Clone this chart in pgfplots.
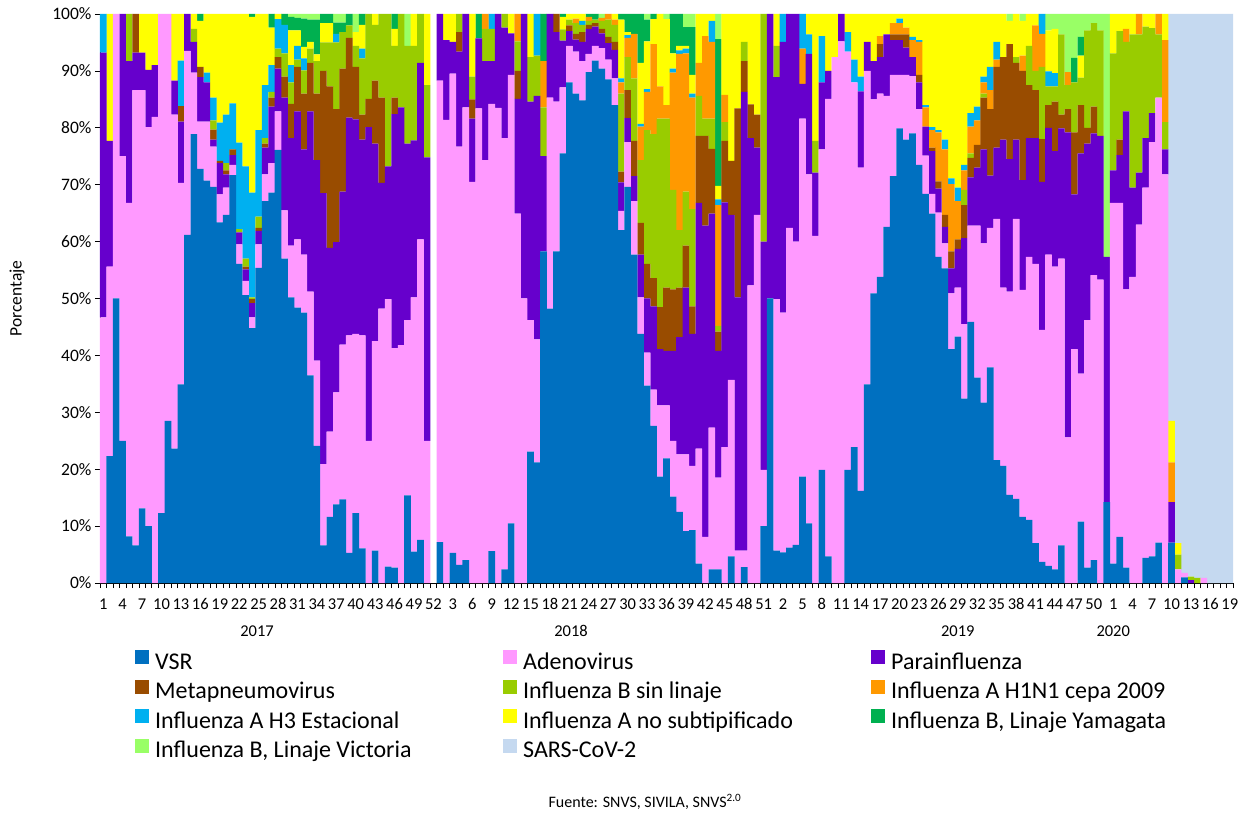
\documentclass[border=0pt]{standalone}
\usepackage{pgfplots}
\pgfplotsset{compat=1.18}
\usepackage{pgfplotstable}
\usepackage{fontspec}
\setmainfont{Carlito}
\definecolor{cVSR}{RGB}{0,112,192}
\definecolor{cAde}{RGB}{255,153,255}
\definecolor{cPara}{RGB}{102,0,204}
\definecolor{cMeta}{RGB}{153,76,0}
\definecolor{cFluB}{RGB}{153,204,0}
\definecolor{cHoneN}{RGB}{255,153,0}
\definecolor{cHthree}{RGB}{0,176,240}
\definecolor{cAns}{RGB}{255,255,0}
\definecolor{cYam}{RGB}{0,176,80}
\definecolor{cVic}{RGB}{153,255,102}
\definecolor{cSars}{RGB}{197,217,240}
\pgfplotstableread{
x v a p m b h1 h3 ans ym vic s
0 0 46.7 46.5 0 0 0 6.8 0 0 0 0
1 22.3 33.3 22.1 0 0 0 0 22.3 0 0 0
2 50 50 0 0 0 0 0 0 0 0 0
3 25 50 25 0 0 0 0 0 0 0 0
4 8.2 58.6 24.9 0 8.3 0 0 0 0 0 0
5 6.6 80 6.6 6.8 0 0 0 0 0 0 0
6 13.1 73.5 6.6 0 0 0 0 6.8 0 0 0
7 10 70.1 10.1 0 0 0 0 9.8 0 0 0
8 0 81.9 9.1 0 0 0 0 9 0 0 0
9 12.3 87.7 0 0 0 0 0 0 0 0 0
10 28.5 71.5 0 0 0 0 0 0 0 0 0
11 23.6 58.7 6 0 0 0 0 11.7 0 0 0
12 34.9 35.4 10.8 2.7 0 0 8 8.2 0 0 0
13 61.2 32.3 6.5 0 0 0 0 0 0 0 0
14 78.9 10.8 5.4 0 2.3 0 0 2.6 0 0 0
15 72.8 8.3 7.8 1.8 0 0 0 8.1 1.2 0 0
16 70.7 10.4 6.9 0 0 0 1.7 10.3 0 0 0
17 69.6 7.1 1.2 1.8 1.6 0 4 14.7 0 0 0
18 63.4 4.9 5.5 0.4 0 0 6.7 19.1 0 0 0
19 64.7 4.8 2.3 0.7 1.3 0 8.5 17.7 0 0 0
20 71.7 1.8 1.7 1 0 0 8.1 15.7 0 0 0
21 56.1 3.4 2.1 0 0.6 0 15.2 22.6 0 0 0
22 50.6 2.5 2 0.5 1.4 0 16.2 26.8 0 0 0
23 44.8 1.9 2.5 0.7 0.3 0 18.4 30.9 0.5 0 0
24 55.4 4.1 2.4 0.5 2 0 15.2 20.4 0 0 0
25 67.1 4.7 4.7 0.7 1 0 9.3 12.5 0 0 0
26 68.6 5.2 9.9 1.6 1 0 4.7 6.6 2.4 0 0
27 76.1 6.8 7.5 2 1.5 0 5.2 0.9 0 0 0
28 57 8.5 19.8 3.7 4.1 0 5 0 1.9 0 0
29 50.2 9.1 18.9 6 3.8 0 3 6.1 2.4 0.5 0
30 48.4 12 22.5 7.8 1.3 0 2.4 2.7 2.2 0.7 0
31 47.5 10.2 18.5 9.8 4.1 0 2.1 2 5 0.8 0
32 36.5 14.7 31.7 8.5 2.5 0 0 1.2 3.9 1 0
33 24.1 15 35.2 11.7 5.7 0 0 1.2 6.1 1 0
34 6.6 14.3 47.6 21.5 5 0 0 3.4 1.6 0 0
35 11.6 15 32.3 28.4 7.7 0 0 3.4 1.6 0 0
36 13.8 19.7 26.4 23.4 11.7 0 1.5 0 2 1.5 0
37 14.7 27.2 26.9 21.6 6.4 0 0 0 1.7 1.5 0
38 5.3 38.2 38.3 14 2.2 0 0 0 2 0 0
39 12.3 31.5 37.7 9.2 3.7 0 0 2.4 0 3.2 0
40 6.1 37.4 34.4 4.4 9.9 0 1.7 4.2 1.9 0 0
41 0 25 55.1 5 14.9 0 0 0 0 0 0
42 5.7 36.8 34.7 11.1 9.8 0 0 1.9 0 0 0
43 0 48.2 22.1 15 14.7 0 0 0 0 0 0
44 2.9 47 23.3 0 26.8 0 0 0 0 0 0
45 2.7 38.6 41.1 2.9 9.1 0 0 3 2.6 0 0
46 0 41.8 41.8 0 16.4 0 0 0 0 0 0
47 15.4 30.8 31 0 17.2 0 0 0 0 5.6 0
48 5.5 44.7 27.6 0 16.6 0 0 5.6 0 0 0
49 7.6 52.8 31 0 8.6 0 0 0 0 0 0
50 0 25 49.8 0 12.7 0 0 12.5 0 0 0
51 0 0 0 0 0 0 0 0 0 0 0
52 7.2 81.1 11.7 0 0 0 0 0 0 0 0
53 0 81.4 14 0 0 0 0 4.6 0 0 0
54 5.3 84.2 5.6 0 0 0 0 4.9 0 0 0
55 3.2 73.5 16.7 3.4 3.2 0 0 0 0 0 0
56 4 79.6 16.4 0 0 0 0 0 0 0 0
57 0 70.5 11.1 3.4 4 0 0 11 0 0 0
58 0 83.4 12.3 0 0 0 0 0 4.3 0 0
59 0 74.3 17.4 0 5.7 2.6 0 0 0 0 0
60 5.6 78.6 7.5 0 5.7 0 2.6 0 0 0 0
61 0 83.5 16.5 0 0 0 0 0 0 0 0
62 2.4 75.8 19.4 0 2.4 0 0 0 0 0 0
63 10.5 78.8 7.3 0 0 0 0 3.4 0 0 0
64 0 64.9 20.2 4.9 5.2 4.8 0 0 0 0 0
65 0 50 50 0 0 0 0 0 0 0 0
66 23.1 23.1 38.4 0 7.8 0 0 7.6 0 0 0
67 21.2 21.6 42.8 0 7.1 0 7.3 0 0 0 0
68 58.3 0 16.7 0 8.6 8.1 0 0 8.3 0 0
69 48.2 37.1 14.7 0 0 0 0 0 0 0 0
70 58.3 26.3 12.2 3.2 0 0 0 0 0 0 0
71 75.5 11.6 8.2 0 2 0 0 2.2 0.5 0 0
72 88 6.4 2.6 1 1 0 0 1 0 0 0
73 86 7.4 2.1 1 1.9 0.8 0 0.8 0 0 0
74 84.8 6.9 3.4 1.7 1.3 0 0.7 1.2 0 0 0
75 89.8 3.2 4.4 0.7 0.7 0.7 0 0 0.5 0 0
76 91.8 2.6 3.4 0.6 0.6 0 0 0 1 0 0
77 90.4 3.6 2.6 0.8 1.4 0.5 0 0 0 0.7 0
78 88.5 3.5 2.9 1.1 3 1 0 0 0 0 0
79 84 4.7 5 1.4 3 0.9 0 1 0 0 0
80 62 3.4 5 1.9 13.7 2 0.7 10.3 1 0 0
81 69.6 7.9 4.2 4.9 5.8 3.4 0.5 0.5 3.2 0 0
82 57.7 9.4 4.4 6.2 11 7.8 0 0 3.5 0 0
83 43.8 6.4 7.5 5.6 11 5.9 0.5 10.7 8.6 0 0
84 34.7 5.8 9.5 6.1 23.5 6.7 0.5 8.4 3.8 1 0
85 27.6 6.4 14.6 5 25.3 15.8 0 4.4 0.9 0 0
86 18.7 12.5 9.9 7.4 33.1 5.7 0 12.7 0 0 0
87 21.9 9.3 9.6 11.1 29.7 2.4 0 15.1 0 0.9 0
88 15.2 9.8 15.8 10.8 17.5 20.6 0.7 2.7 6.9 0 0
89 12.5 10.1 20.6 8.7 10.1 31 0.6 0.8 5.6 0 0
90 9.1 13.5 29.3 7.4 9.5 24.3 0.8 0.5 3.3 2.3 0
91 9.3 11.3 23.2 4.8 17.1 19.6 0.7 3.3 8.4 2.3 0
92 3.4 20.2 43.2 11.8 7 5.8 0 8.6 0 0 0
93 0 8.1 54.7 15.8 3 14.5 0 3.9 0 0 0
94 2.4 24.9 37.6 11.4 5.3 13.5 3.7 1.2 0 0 0
95 2.4 16.1 22.3 3.4 1 21.2 1 2.4 25.8 4.4 0
96 0 23.9 43 10.8 3.3 4.8 0 14.2 0 0 0
97 4.7 31 29 9.5 0 0 0 25.8 0 0 0
98 0 5.7 44.5 33.2 0 0 0 16.6 0 0 0
99 2.8 2.9 80.6 5.4 3.4 0 0 4.9 0 0 0
100 0 52.3 25.9 5.9 0 0 0 15.9 0 0 0
101 0 64.7 11.8 5.8 0 0 0 17.7 0 0 0
102 10 9.9 40.1 0 40 0 0 0 0 0 0
103 50 0 50 0 0 0 0 0 0 0 0
104 5.7 44.2 39 0 5.5 0 0 5.6 0 0 0
105 5.4 42.1 47.6 0 0 0 4.9 0 0 0 0
106 6.2 56.2 37.6 0 0 0 0 0 0 0 0
107 6.7 53.3 40 0 0 0 0 0 0 0 0
108 18.7 62.9 6.1 0 0 6.2 6.1 0 0 0 0
109 10.5 61.3 21.2 0 0 0 3.4 3.6 0 0 0
110 0 61 11.1 0 5.6 0 0 22.3 0 0 0
111 19.9 56.3 11.8 0 0 0 8.1 3.9 0 0 0
112 4.7 80.4 4.9 0 0 0 0 10 0 0 0
113 0 92.4 0 0 0 0 0 7.6 0 0 0
114 0 95.2 4.8 0 0 0 0 0 0 0 0
115 19.9 73.5 0 0 0 0 3.4 3.2 0 0 0
116 23.9 64.1 0 0 0 0 4 8 0 0 0
117 16.2 56.8 13.4 0 0 0 2.6 11 0 0 0
118 34.9 55.1 5.1 0 0 0 0 4.9 0 0 0
119 50.9 34.1 6.7 0 0 0 0 8.3 0 0 0
120 53.8 32.2 6.4 2.3 0 1.4 0 3.9 0 0 0
121 62.6 23 10.8 0 0 0 0 3.6 0 0 0
122 71.5 17.8 6.1 1 0 2 0 1.6 0 0 0
123 79.9 9.4 6.1 1 0 2 0.8 0.8 0 0 0
124 77.9 11.4 4.8 2.3 0 1.2 0 2.4 0 0 0
125 79 10.1 3.3 0 0 3 0.6 4 0 0 0
126 73.5 9.8 4.7 1.3 0 5.8 0.3 4.6 0 0 0
127 68.4 6.7 5.1 0 0 3.4 0.4 16 0 0 0
128 64.9 3.5 7.5 0.6 0 3.1 0.5 19.9 0 0 0
129 57.3 7.8 4.2 1.3 0 8.6 0.4 20.4 0 0 0
130 55.3 4.4 2.9 2.1 0 11.5 1.7 22.1 0 0 0
131 41.1 9.8 4.4 3 0 11.8 1 28.9 0 0 0
132 43.3 8.6 6.8 1.7 0 6.7 2.4 30.5 0 0 0
133 32.4 13.1 15.1 5.8 2.7 3.4 1 26.5 0 0 0
134 45.9 16.9 8.5 3.4 0.8 4.7 2.4 17.4 0 0 0
135 36.1 26.7 10.2 4 0 4.3 2.4 16.3 0 0 0
136 31.7 28 16.5 9.1 0.7 2 1 11 0 0 0
137 37.9 24.5 9.2 11.7 0 3.3 4.1 9.3 0 0 0
138 21.6 42.4 12.5 14.2 0 1.3 3.1 4.9 0 0 0
139 20.6 31.3 26 14.5 0 0 0 7.6 0 0 0
140 15.5 35.7 23.3 20.2 0 0 0 4.1 0 1.2 0
141 14.8 49.2 13.9 13.5 1 0 0 7.6 0 0 0
142 11.6 39.9 19.3 19.2 0 2.7 0 6.1 0 1.2 0
143 11.1 46.2 20.9 9.3 6.9 0 0 5.6 0 0 0
144 7 49.1 22.1 8.4 3.4 8 0 2 0 0 0
145 3.7 40.8 26 7.5 12.7 5.8 3.5 0 0 0 0
146 3 54.7 22.3 4 3.3 0 2.6 7.2 0 2.9 0
147 2.4 53.2 20.3 8.7 2.7 0 2.3 7.8 0 2.6 0
148 6.6 50.4 22.9 2.4 14.1 0 0 0 0 3.6 0
149 0 25.6 53.6 4.1 4.2 2.3 0 0 0 10.2 0
150 0 41.1 27.2 10.9 8.8 0 0 0 4.3 7.7 0
151 10.8 26 38.7 8.5 4.8 0 0 3.9 3.3 4 0
152 2.7 43.5 31 2.8 17.1 0 0 0 0 2.9 0
153 4 50.1 24.9 4.7 14.7 0 0 0 0 1.6 0
154 0 53.3 25.3 0 18.5 0 0 0 0 2.9 0
155 14.2 0 43.1 0 0 0 0 0 0 42.7 0
156 3.4 63.4 5.7 0 20.6 0 0 6.9 0 0 0
157 8.1 58.7 8.4 2.7 19.1 0 0 3 0 0 0
158 2.7 48.9 31.3 0 12.2 2.3 0 2.6 0 0 0
159 0 53.8 15.7 0 26.9 0 0 3.6 0 0 0
160 0 63 9.1 0 24.3 3.6 0 0 0 0 0
161 4.4 65.1 8.7 0 19.6 0 0 2.2 0 0 0
162 4.7 72.8 5.1 0 14.9 0 0 2.5 0 0 0
163 7.1 78.2 0 0 11.1 3.6 0 0 0 0 0
164 0 71.8 4.4 0 4.8 14.4 0 4.6 0 0 0
165 7.1 0 7.1 0 0 7 0 7.3 0 0 71.5
166 0 2.4 0 0 2.6 0 0 2 0 0 93
167 1 0.8 0 0 0 0 0 0 0 0 98.2
168 0 0 0.5 0 0.6 0 0 0 0 0 98.9
169 0 0 0 0 0.9 0 0 0 0 0 99.1
170 0 0.9 0 0 0 0 0 0 0 0 99.1
171 0 0 0 0 0 0 0 0 0 0 100
172 0 0 0 0 0 0 0 0 0 0 100
173 0 0 0 0 0 0 0 0 0 0 100
174 0 0 0 0 0 0 0 0 0 0 100
}\datatable
\newcommand{\lb}[1]{\makebox[342bp][l]{#1}}
\begin{document}
\begin{tikzpicture}
\useasboundingbox (-100bp,-231bp) rectangle (1147bp,583bp);
\begin{axis}[
  at={(0,0)}, anchor=south west,
  scale only axis, width=1133bp, height=569bp,
  ybar stacked, bar width=1.02,
  xmin=-0.5, xmax=174.5, ymin=0, ymax=100,
  axis x line*=bottom, axis y line*=left,
  axis line style={black, line width=0.8bp},
  tick align=outside, major tick length=5bp,
  tick style={black, line width=0.6bp},
  xtick={-0.5,0.5,...,175},
  xticklabels={},
  extra x ticks={0,3,...,174},
  extra x tick labels={1,4,7,10,13,16,19,22,25,28,31,34,37,40,43,46,49,52,3,6,9,12,15,18,21,24,27,30,33,36,39,42,45,48,51,2,5,8,11,14,17,20,23,26,29,32,35,38,41,44,47,50,1,4,7,10,13,16,19},
  extra x tick style={major tick length=0pt, tick label style={yshift=-12bp}},
  ytick={0,10,...,100},
  yticklabels={0\%,10\%,20\%,30\%,40\%,50\%,60\%,70\%,80\%,90\%,100\%},
  x tick label style={font=\fontsize{16.5bp}{19bp}\selectfont},
  y tick label style={font=\fontsize{17.5bp}{20bp}\selectfont},
  clip=false,
  legend columns=3,
  legend style={at={(axis description cs:0,0)}, anchor=north west, xshift=35bp, yshift=-66bp,
    draw=none, fill=none, inner sep=0pt, row sep=1.5bp, column sep=3bp,
    font=\fontsize{24bp}{28bp}\selectfont,
    nodes={inner sep=3bp, text height=17bp, text depth=5bp, anchor=west}},
  legend image code/.code={\fill[#1] (0bp,-1bp) rectangle (14bp,13bp);},
]
\addplot[fill=cVSR, draw=none] table[x=x, y=v]{\datatable}; \addlegendentry{\lb{VSR}}
\addplot[fill=cAde, draw=none] table[x=x, y=a]{\datatable}; \addlegendentry{\lb{Adenovirus}}
\addplot[fill=cPara, draw=none] table[x=x, y=p]{\datatable}; \addlegendentry{\lb{Parainfluenza}}
\addplot[fill=cMeta, draw=none] table[x=x, y=m]{\datatable}; \addlegendentry{\lb{Metapneumovirus}}
\addplot[fill=cFluB, draw=none] table[x=x, y=b]{\datatable}; \addlegendentry{\lb{Influenza B sin linaje}}
\addplot[fill=cHoneN, draw=none] table[x=x, y=h1]{\datatable}; \addlegendentry{\lb{Influenza A H1N1 cepa 2009}}
\addplot[fill=cHthree, draw=none] table[x=x, y=h3]{\datatable}; \addlegendentry{\lb{Influenza A H3 Estacional}}
\addplot[fill=cAns, draw=none] table[x=x, y=ans]{\datatable}; \addlegendentry{\lb{Influenza A no subtipificado}}
\addplot[fill=cYam, draw=none] table[x=x, y=ym]{\datatable}; \addlegendentry{\lb{Influenza B, Linaje Yamagata}}
\addplot[fill=cVic, draw=none] table[x=x, y=vic]{\datatable}; \addlegendentry{\lb{Influenza B, Linaje Victoria}}
\addplot[fill=cSars, draw=none] table[x=x, y=s]{\datatable}; \addlegendentry{\lb{SARS-CoV-2}}
\node[font=\fontsize{16.5bp}{19bp}\selectfont] at ([yshift=-48bp]axis cs:23.75,0) {2017};
\node[font=\fontsize{16.5bp}{19bp}\selectfont] at ([yshift=-48bp]axis cs:72.25,0) {2018};
\node[font=\fontsize{16.5bp}{19bp}\selectfont] at ([yshift=-48bp]axis cs:132,0) {2019};
\node[font=\fontsize{16.5bp}{19bp}\selectfont] at ([yshift=-48bp]axis cs:156,0) {2020};
\node[rotate=90, font=\fontsize{17.5bp}{20bp}\selectfont] at ([xshift=-83bp]axis description cs:0,0.5) {Porcentaje};
\node[font=\fontsize{16bp}{19bp}\selectfont] at ([xshift=545bp, yshift=-219bp]axis description cs:0,0) {Fuente: SNVS, SIVILA, SNVS\textsuperscript{2.0}};
\end{axis}
\end{tikzpicture}
\end{document}
